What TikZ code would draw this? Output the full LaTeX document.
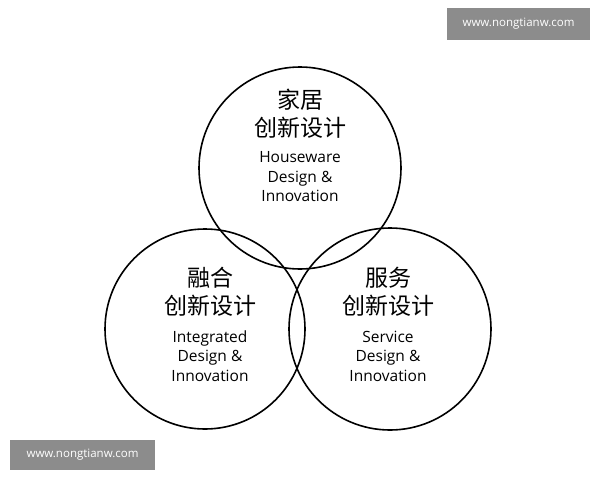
\documentclass[tikz,border=0pt]{standalone}
\usepackage{fontspec}
\setmainfont{Open Sans}
\newfontfamily\cjk{Noto Sans CJK SC}
\begin{document}
\begin{tikzpicture}[x=1pt,y=-1pt,
  circ/.style={draw=black,line width=1.6pt},
  zh/.style={font=\cjk\fontsize{23}{28}\selectfont,align=center},
  en/.style={font=\fontsize{15.5}{19.5}\selectfont,align=center},
  wm/.style={fill=black!45,text=white,font=\fontsize{11.5}{13}\selectfont,minimum height=32pt,inner sep=0pt}]
\useasboundingbox (0,0) rectangle (600,480);
\fill[white] (0,0) rectangle (600,480);
\draw[circ] (300,168) circle (101);
\draw[circ] (205,329) circle (100);
\draw[circ] (390,329) circle (101);
\node[zh] (t1) at (300,114) {家居\\创新设计};
\node[en] (t2) at (300,177) {Houseware\\Design \&\\Innovation};
\node[zh] (l1) at (210,292) {融合\\创新设计};
\node[en] (l2) at (210,356) {Integrated\\Design \&\\Innovation};
\node[zh] (r1) at (388,292) {服务\\创新设计};
\node[en] (r2) at (388,356) {Service\\Design \&\\Innovation};
\node[wm,minimum width=143pt] (w1) at (518.5,24) {www.nongtianw.com};
\node[wm,minimum width=145pt,minimum height=30pt] (w2) at (82.5,455) {www.nongtianw.com};
\end{tikzpicture}
\end{document}
